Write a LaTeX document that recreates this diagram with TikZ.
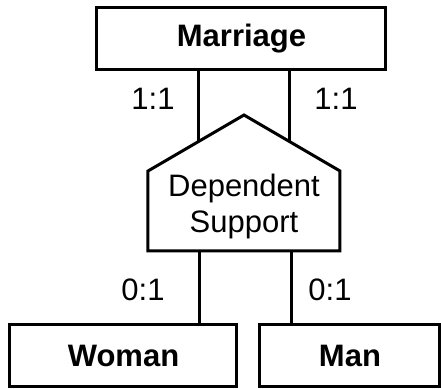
\documentclass[tikz,border=0pt]{standalone}
\usepackage{fontspec}
\setmainfont{Liberation Sans}
\usetikzlibrary{calc}

\tikzset{
    entity/.style={draw, line width=1.5pt, minimum height=31pt, inner sep=0pt, font=\fontsize{15.5}{18}\selectfont\bfseries},
    card/.style={font=\fontsize{15.5}{18}\selectfont},
    link/.style={line width=1.5pt}
}

\begin{document}
\begin{tikzpicture}[x=0.5pt, y=-0.5pt]
    \useasboundingbox (0, 0) rectangle (441, 389);

    % Entities
    \node[entity, minimum width=144.5pt] (marriage) at (241.5, 39) {Marriage};
    \node[entity, minimum width=113.5pt] (woman) at (123.5, 356) {Woman};
    \node[entity, minimum width=90pt] (man) at (350, 356) {Man};

    % Dependent support (house shape)
    \coordinate (apex) at (244, 115);
    \coordinate (shL) at (148, 171);
    \coordinate (shR) at (340, 171);
    \coordinate (botL) at (148, 251);
    \coordinate (botR) at (340, 251);
    \draw[link, line join=miter] (apex) -- (shR) -- (botR) -- (botL) -- (shL) -- cycle;
    \node[card, align=center] (support) at (244, 206) {Dependent\\Support};

    % Connectors
    \coordinate (roofL) at ($(apex)!0.47!(shL)$);
    \coordinate (roofR) at ($(apex)!0.47!(shR)$);
    \coordinate (baseL) at ($(botL)!0.266!(botR)$);
    \coordinate (baseR) at ($(botL)!0.75!(botR)$);
    \draw[link] (roofL |- marriage.south) -- (roofL);
    \draw[link] (roofR |- marriage.south) -- (roofR);
    \draw[link] (baseL) -- (baseL |- woman.north);
    \draw[link] (baseR) -- (baseR |- man.north);

    % Cardinalities
    \node[card] (cardML) at (153, 99) {1:1};
    \node[card] (cardMR) at (336, 99) {1:1};
    \node[card] (cardW) at (143, 290) {0:1};
    \node[card] (cardM) at (330, 290) {0:1};
\end{tikzpicture}
\end{document}
